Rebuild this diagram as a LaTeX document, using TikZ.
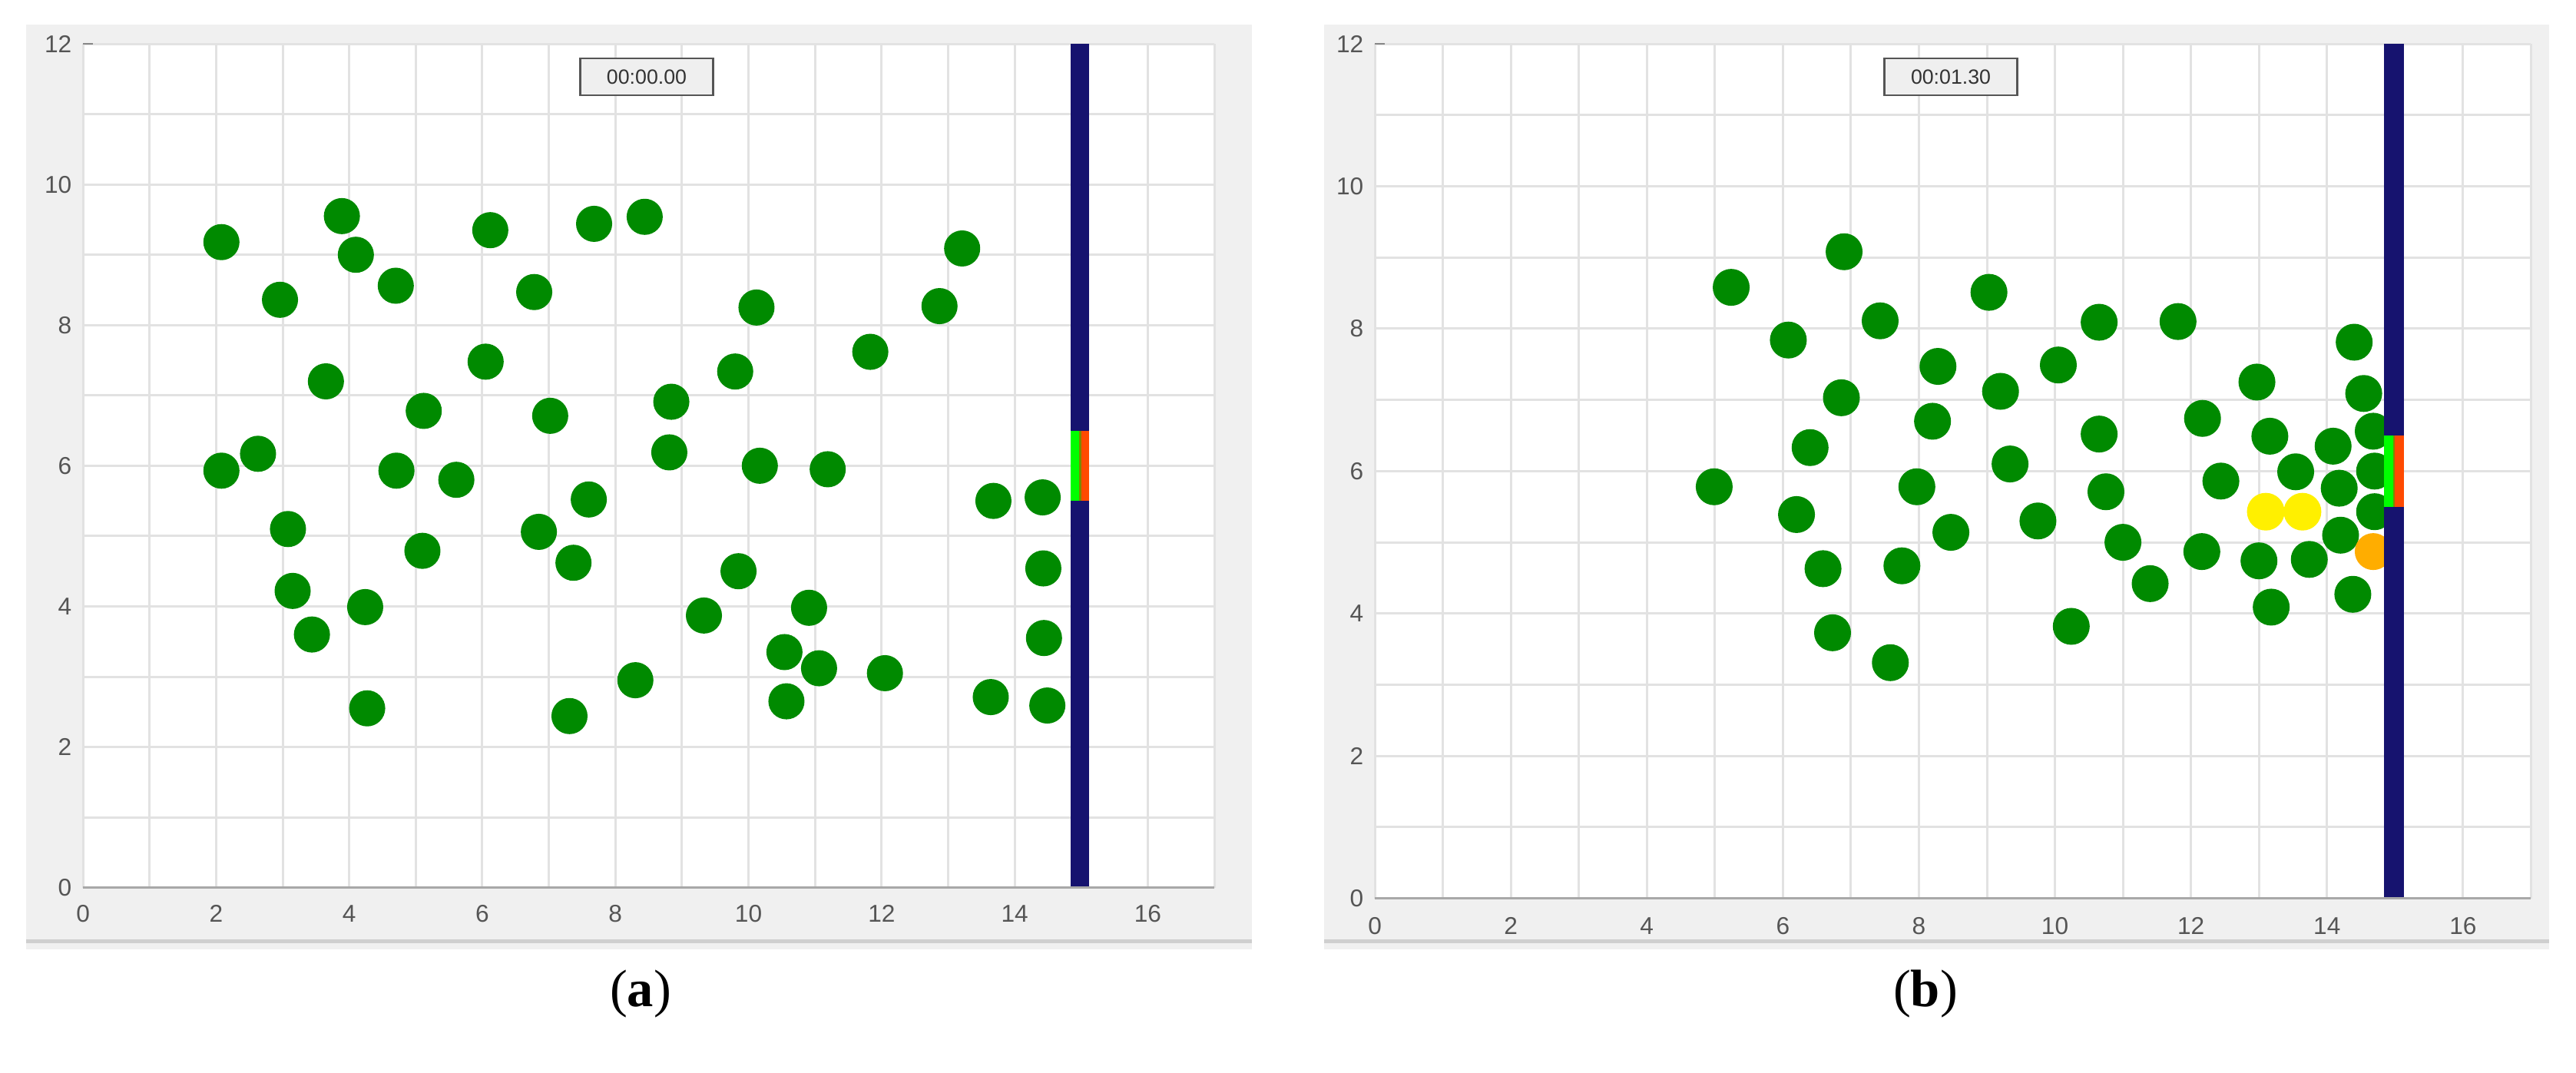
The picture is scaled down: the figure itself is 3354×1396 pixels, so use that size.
\documentclass[tikz,border=0pt]{standalone}
\usepackage{fontspec}
\setmainfont{Liberation Serif}
\newfontfamily\axisfont{Liberation Sans}
\definecolor{panelbg}{HTML}{F0F0F0}
\definecolor{panelline}{HTML}{CFCFCF}
\definecolor{gridcol}{HTML}{E2E2E2}
\definecolor{axiscol}{HTML}{A8A8A8}
\definecolor{labelcol}{HTML}{555555}
\definecolor{ballgreen}{HTML}{008A00}
\definecolor{ballyellow}{HTML}{FFF000}
\definecolor{ballorange}{HTML}{FFAD00}
\definecolor{wallblue}{HTML}{16136F}
\definecolor{gategreen}{HTML}{00FF00}
\definecolor{gatered}{HTML}{FF4A00}
\definecolor{gateolive}{HTML}{7A8A00}
\definecolor{timerbg}{HTML}{EFEFEF}
\definecolor{timerframe}{HTML}{555555}
\definecolor{timertext}{HTML}{333333}
\tikzset{
  gridline/.style={draw=gridcol, line width=0.03cm},
  axisline/.style={draw=axiscol, line width=0.035cm},
  ylab/.style={anchor=east, inner sep=0pt, xshift=-0.14cm, text=labelcol, font=\axisfont\fontsize{9}{9}\selectfont},
  xlab/.style={anchor=center, inner sep=0pt, text=labelcol, font=\axisfont\fontsize{9}{9}\selectfont},
  timer/.style={draw=timerframe, line width=0.7pt, fill=timerbg, minimum width=1.73cm, minimum height=0.48cm, inner sep=0pt, text=timertext, font=\axisfont\fontsize{7.6}{8}\selectfont},
  caption/.style={inner sep=0pt, font=\fontsize{19.5}{21}\selectfont},
  panel/.style={fill=panelbg},
  ballg/.style={fill=ballgreen},
}
\begin{document}
\begin{tikzpicture}[x=0.01cm, y=-0.01cm]
\useasboundingbox (0,0) rectangle (3354,1396);

% ---------------- panel (a) ----------------
\fill[panel] (34,32) rectangle (1630,1236);
\fill[panelline] (34,1223) rectangle (1630,1228);
\begin{scope}[shift={(1.08cm,-11.55cm)}, x=0.866cm, y=0.915cm]
  \fill[white] (0,0) rectangle (17,12);
  \foreach \i in {0,...,17} \draw[gridline] (\i,0) -- (\i,12);
  \foreach \j in {0,...,12} \draw[gridline] (0,\j) -- (17,\j);
  \foreach \p/\q in {2.08/9.18, 3.89/9.55, 4.10/9.00, 4.70/8.56, 2.96/8.36, 6.12/9.35,
    7.68/9.44, 6.78/8.47, 3.65/7.20, 6.05/7.48, 5.12/6.78, 7.02/6.71, 2.08/5.93,
    2.63/6.17, 4.71/5.93, 5.61/5.80, 7.60/5.52, 3.08/5.10, 6.85/5.06, 5.10/4.79,
    7.37/4.62, 3.15/4.22, 4.24/3.99, 3.44/3.60, 4.27/2.55, 7.31/2.44,
    8.44/9.54, 8.30/2.95, 8.81/6.19, 8.84/6.91, 9.80/7.34, 10.12/8.25, 10.17/6.00,
    9.85/4.50, 9.33/3.87, 10.54/3.35, 10.91/3.98, 11.06/3.12, 10.57/2.65,
    11.19/5.95, 11.83/7.62, 12.05/3.05, 12.87/8.27, 13.21/9.09, 13.68/5.50,
    14.42/5.55, 14.43/4.54, 14.44/3.55, 13.64/2.71, 14.49/2.59}
    \fill[ballg] (\p,\q) circle[radius=0.235cm];
  \fill[wallblue] (14.84,0) rectangle (15.12,12);
  \fill[gategreen] (14.84,5.5) rectangle (14.97,6.5);
  \fill[gateolive] (14.97,5.5) rectangle (15.0,6.5);
  \fill[gatered] (15.0,5.5) rectangle (15.12,6.5);
  \draw[axisline] (0,0) -- (17,0);
  \draw[draw=labelcol!70, line width=0.025cm] (0,12) -- ++(0.13cm,0);
  \foreach \v in {0,2,...,12} \node[ylab] (ya\v) at (0,\v) {\v};
  \foreach \v in {0,2,...,16} \node[xlab, yshift=-0.34cm] (xa\v) at (\v,0) {\v};
\end{scope}
\node[timer] (ta) at (842,100) {00:00.00};
\node[caption] (capa) at (834,1294) {(\textbf{a})};

% ---------------- panel (b) ----------------
\fill[panel] (1724,32) rectangle (3319,1236);
\fill[panelline] (1724,1223) rectangle (3319,1228);
\begin{scope}[shift={(17.89cm,-11.69cm)}, x=0.885cm, y=0.9267cm]
  \fill[white] (0,0) rectangle (17,12);
  \foreach \i in {0,...,17} \draw[gridline] (\i,0) -- (\i,12);
  \foreach \j in {0,...,12} \draw[gridline] (0,\j) -- (17,\j);
  \foreach \p/\q in {5.24/8.58, 6.90/9.08, 6.08/7.84, 7.43/8.11, 9.03/8.51, 10.65/8.09,
    11.81/8.10, 6.86/7.03, 8.28/7.47, 9.20/7.12, 10.05/7.49, 6.40/6.33, 8.20/6.70,
    10.65/6.52, 9.34/6.10, 4.99/5.78, 7.97/5.78, 10.75/5.71, 6.20/5.39, 8.47/5.14,
    9.75/5.30, 11.00/5.00, 6.59/4.63, 7.75/4.67, 11.40/4.42, 6.73/3.73, 10.24/3.82,
    7.58/3.31,
    14.40/7.81, 12.97/7.25, 14.54/7.09, 12.17/6.74, 13.16/6.49, 14.09/6.35,
    14.68/6.56, 13.54/5.99, 12.44/5.86, 14.70/6.00, 14.18/5.76, 14.70/5.43,
    14.20/5.10, 12.16/4.87, 13.00/4.74, 13.74/4.76, 14.38/4.27, 13.18/4.09}
    \fill[ballg] (\p,\q) circle[radius=0.24cm];
  \fill[ballyellow] (13.10,5.43) circle[radius=0.245cm];
  \fill[ballyellow] (13.64,5.43) circle[radius=0.245cm];
  \fill[ballorange] (14.68,4.87) circle[radius=0.24cm];
  \fill[wallblue] (14.84,0) rectangle (15.13,12);
  \fill[gategreen] (14.84,5.5) rectangle (14.97,6.5);
  \fill[gateolive] (14.97,5.5) rectangle (15.0,6.5);
  \fill[gatered] (15.0,5.5) rectangle (15.13,6.5);
  \draw[axisline] (0,0) -- (17,0);
  \draw[draw=labelcol!70, line width=0.025cm] (0,12) -- ++(0.13cm,0);
  \foreach \v in {0,2,...,12} \node[ylab] (yb\v) at (0,\v) {\v};
  \foreach \v in {0,2,...,16} \node[xlab, yshift=-0.36cm] (xb\v) at (\v,0) {\v};
\end{scope}
\node[timer] (tb) at (2540,100) {00:01.30};
\node[caption] (capb) at (2507,1294) {(\textbf{b})};
\end{tikzpicture}
\end{document}
